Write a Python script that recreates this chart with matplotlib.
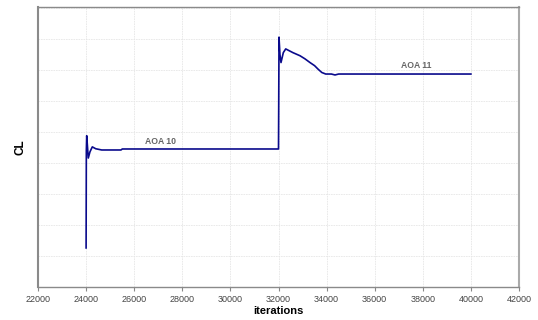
import matplotlib
matplotlib.use("Agg")
import matplotlib.pyplot as plt
from matplotlib.ticker import MultipleLocator, NullFormatter

iterations = [24000, 24010, 24025, 24060, 24091, 24160, 24258, 24400, 24649, 25450, 25505,
              32000, 32010, 32021, 32060, 32104, 32200, 32300, 32600, 32894, 33100,
              33310, 33500, 33655, 33800, 33963, 34200, 34350, 34500, 35000, 40000]
cl = [0.663, 0.820, 0.844, 0.825, 0.808, 0.818, 0.826, 0.823, 0.821, 0.821, 0.8226,
      0.8226, 0.900, 1.003, 0.975, 0.962, 0.978, 0.984, 0.978, 0.973, 0.968,
      0.962, 0.957, 0.951, 0.946, 0.9435, 0.9435, 0.9420, 0.9435, 0.9435, 0.9435]

labels = ["AOA 10", "AOA 11"]
label_x = [27073, 37717]
label_y = [0.835, 0.958]

fig = plt.figure(figsize=(5.38, 3.2), dpi=100)
ax = fig.add_axes([38/538, 1-287/320, (519-38)/538, (287-7)/320])

ax.plot(iterations, cl, color="#0a0a8c", lw=1.2, zorder=3)

for t, x, y in zip(labels, label_x, label_y):
    ax.text(x, y, t, ha="center", va="center", fontsize=6.2, fontweight="bold",
            color="#666666", family="Liberation Sans")

ax.set_xlim(22000, 42000)
ax.set_ylim(0.60, 0.60 + 280/31*0.05)
ax.xaxis.set_major_locator(MultipleLocator(2000))
ax.yaxis.set_major_locator(MultipleLocator(0.05))
ax.yaxis.set_major_formatter(NullFormatter())
ax.tick_params(axis="y", length=0)
ax.tick_params(axis="x", length=3, color="#888888", labelsize=6.5, labelcolor="#444444", pad=3)
for lab in ax.get_xticklabels():
    lab.set_family("Liberation Sans")

ax.grid(True, color="#e6e6e6", lw=0.6, ls=(0, (2, 1)))
ax.set_axisbelow(True)
for s in ax.spines.values():
    s.set_color("#8a8a8a")
    s.set_linewidth(1.0)
ax.spines["left"].set_linewidth(1.5)
ax.spines["right"].set_linewidth(1.5)
ax.spines["right"].set_color("#aaaaaa")

ax.set_xlabel("iterations", fontsize=8, fontweight="bold", family="Liberation Sans", labelpad=1)
ax.set_ylabel("CL", fontsize=8.5, fontweight="bold", family="Liberation Sans", labelpad=5)

fig.savefig("out.png", dpi=100)
